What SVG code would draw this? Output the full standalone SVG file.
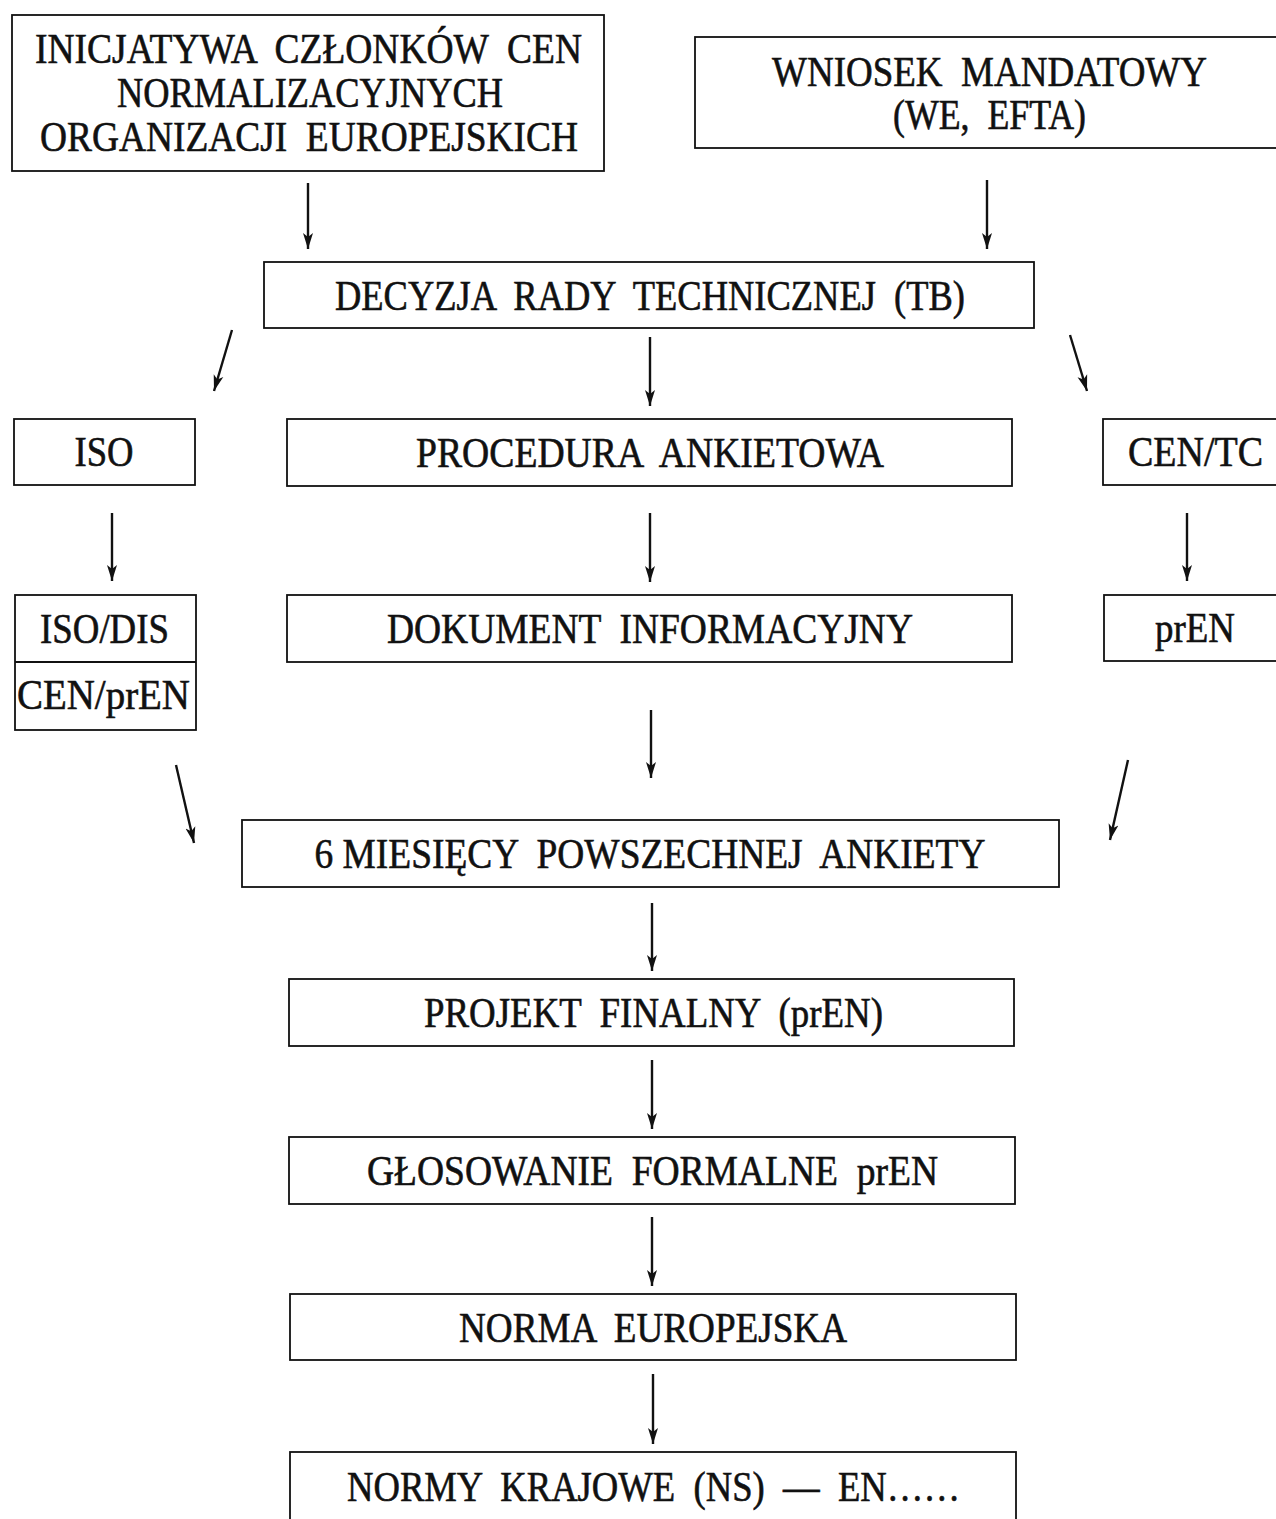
<svg xmlns="http://www.w3.org/2000/svg" width="1276" height="1519" viewBox="0 0 1276 1519">
<style>
.box{fill:#fff;stroke:#111;stroke-width:1.8}
.t{font-family:"Liberation Serif","Times New Roman",serif;font-size:42px;fill:#111;stroke:#111;stroke-width:0.6;text-anchor:middle;white-space:pre}
.c{stroke:#111;stroke-width:2.4;fill:none;marker-end:url(#ah)}
</style>
<defs>
<marker id="ah" markerUnits="userSpaceOnUse" markerWidth="18" markerHeight="12" refX="16" refY="6" orient="auto">
<path d="M0,1 L16,6 L0,11 L4,6 z" fill="#111"/>
</marker>
</defs>
<rect width="1276" height="1519" fill="#fff"/>
<g id="connectors">
<line class="c" x1="308" y1="183" x2="308" y2="249"/>
<line class="c" x1="987" y1="180" x2="987" y2="249"/>
<line class="c" x1="232" y1="330" x2="214" y2="391"/>
<line class="c" x1="650" y1="337" x2="650" y2="406"/>
<line class="c" x1="1070" y1="335" x2="1087" y2="391"/>
<line class="c" x1="112" y1="513" x2="112" y2="581"/>
<line class="c" x1="650" y1="513" x2="650" y2="582"/>
<line class="c" x1="1187" y1="513" x2="1187" y2="581"/>
<line class="c" x1="651" y1="710" x2="651" y2="778"/>
<line class="c" x1="176" y1="765" x2="194" y2="843"/>
<line class="c" x1="1128" y1="760" x2="1110" y2="840"/>
<line class="c" x1="652" y1="903" x2="652" y2="971"/>
<line class="c" x1="652" y1="1060" x2="652" y2="1129"/>
<line class="c" x1="652" y1="1217" x2="652" y2="1286"/>
<line class="c" x1="653" y1="1374" x2="653" y2="1444"/>
</g>
<g id="n-inicjatywa">
<rect class="box" x="12" y="15" width="592" height="156"/>
<text class="t" x="308.5" y="63" textLength="547" lengthAdjust="spacingAndGlyphs">INICJATYWA  CZŁONKÓW  CEN</text>
<text class="t" x="310" y="107" textLength="386" lengthAdjust="spacingAndGlyphs">NORMALIZACYJNYCH</text>
<text class="t" x="309" y="151" textLength="538" lengthAdjust="spacingAndGlyphs">ORGANIZACJI  EUROPEJSKICH</text>
</g>
<g id="n-wniosek">
<rect class="box" x="695" y="37" width="590" height="111"/>
<text class="t" x="989.5" y="86" textLength="435" lengthAdjust="spacingAndGlyphs">WNIOSEK  MANDATOWY</text>
<text class="t" x="989.5" y="129" textLength="193" lengthAdjust="spacingAndGlyphs">(WE,  EFTA)</text>
</g>
<g id="n-decyzja">
<rect class="box" x="264" y="262" width="770" height="66"/>
<text class="t" x="650" y="310" textLength="630" lengthAdjust="spacingAndGlyphs">DECYZJA  RADY  TECHNICZNEJ  (TB)</text>
</g>
<g id="n-iso">
<rect class="box" x="14" y="419" width="181" height="66"/>
<text class="t" x="104" y="466" textLength="59" lengthAdjust="spacingAndGlyphs">ISO</text>
</g>
<g id="n-procedura">
<rect class="box" x="287" y="419" width="725" height="67"/>
<text class="t" x="650" y="467" textLength="468" lengthAdjust="spacingAndGlyphs">PROCEDURA  ANKIETOWA</text>
</g>
<g id="n-centc">
<rect class="box" x="1103" y="419" width="180" height="66"/>
<text class="t" x="1195.5" y="466" textLength="135" lengthAdjust="spacingAndGlyphs">CEN/TC</text>
</g>
<g id="n-isodis">
<rect class="box" x="15" y="595" width="181" height="135"/>
<line x1="15" y1="662" x2="196" y2="662" stroke="#111" stroke-width="1.8"/>
<text class="t" x="104.5" y="643" textLength="129" lengthAdjust="spacingAndGlyphs">ISO/DIS</text>
<text class="t" x="103.5" y="709" textLength="173" lengthAdjust="spacingAndGlyphs">CEN/prEN</text>
</g>
<g id="n-dokument">
<rect class="box" x="287" y="595" width="725" height="67"/>
<text class="t" x="650" y="643" textLength="526" lengthAdjust="spacingAndGlyphs">DOKUMENT  INFORMACYJNY</text>
</g>
<g id="n-pren">
<rect class="box" x="1104" y="595" width="180" height="66"/>
<text class="t" x="1195" y="642" textLength="80" lengthAdjust="spacingAndGlyphs">prEN</text>
</g>
<g id="n-6miesiecy">
<rect class="box" x="242" y="820" width="817" height="67"/>
<text class="t" x="650" y="868" textLength="671" lengthAdjust="spacingAndGlyphs">6 MIESIĘCY  POWSZECHNEJ  ANKIETY</text>
</g>
<g id="n-projekt">
<rect class="box" x="289" y="979" width="725" height="67"/>
<text class="t" x="653.5" y="1027" textLength="459" lengthAdjust="spacingAndGlyphs">PROJEKT  FINALNY  (prEN)</text>
</g>
<g id="n-glosowanie">
<rect class="box" x="289" y="1137" width="726" height="67"/>
<text class="t" x="652.5" y="1185" textLength="571" lengthAdjust="spacingAndGlyphs">GŁOSOWANIE  FORMALNE  prEN</text>
</g>
<g id="n-norma">
<rect class="box" x="290" y="1294" width="726" height="66"/>
<text class="t" x="653" y="1342" textLength="388" lengthAdjust="spacingAndGlyphs">NORMA  EUROPEJSKA</text>
</g>
<g id="n-normy">
<rect class="box" x="290" y="1452" width="726" height="80"/>
<text class="t" x="653.5" y="1501" textLength="613" lengthAdjust="spacingAndGlyphs">NORMY  KRAJOWE  (NS)  —  EN……</text>
</g>
</svg>
